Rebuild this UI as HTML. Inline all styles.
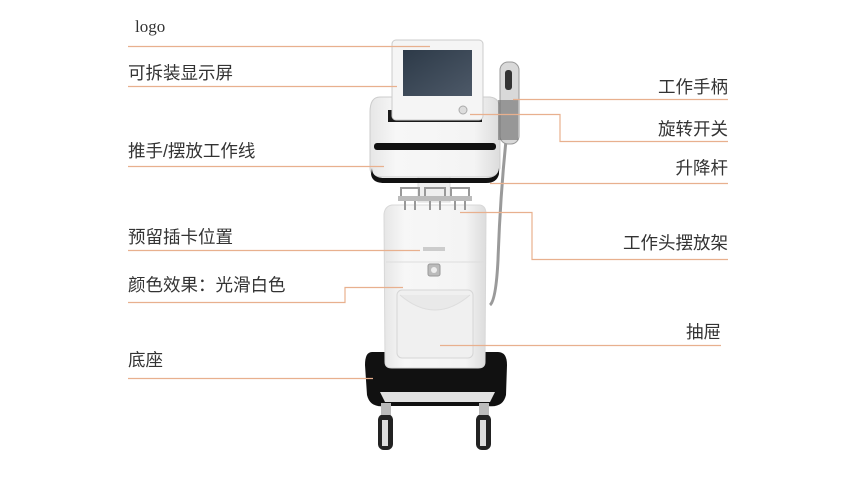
<!DOCTYPE html>
<html><head><meta charset="utf-8"><style>
html,body{margin:0;padding:0;background:#fff}
body{width:862px;height:484px;position:relative;overflow:hidden;font-family:"Liberation Sans","Noto Sans CJK SC",sans-serif;color:#333}
.t{position:absolute;font-size:17.5px;line-height:19px;white-space:nowrap}
.r{text-align:right}
</style></head><body>
<svg width="862" height="484" style="position:absolute;left:0;top:0">
<defs>
<linearGradient id="w" x1="0" x2="1"><stop offset="0" stop-color="#e6e6e6"/><stop offset=".2" stop-color="#f7f7f7"/><stop offset=".8" stop-color="#f4f4f4"/><stop offset="1" stop-color="#dcdcdc"/></linearGradient>
<linearGradient id="s" x1="0" y1="0" x2="1" y2="1"><stop offset="0" stop-color="#2d3a48"/><stop offset="1" stop-color="#4d5968"/></linearGradient>
</defs>
<path d="M372 352 Q365 352 365 365 L367 395 Q370 408 385 406 L488 406 Q503 408 506 395 L507 365 Q507 352 498 352 Z" fill="#111"/>
<path d="M380 392 L495 392 L490 402 L385 402 Z" fill="#fafafa" opacity=".9"/>
<rect x="378" y="414" width="15" height="36" rx="6" fill="#222"/><rect x="382" y="420" width="6" height="26" fill="#ddd"/>
<rect x="476" y="414" width="15" height="36" rx="6" fill="#222"/><rect x="480" y="420" width="6" height="26" fill="#ddd"/>
<rect x="381" y="403" width="10" height="12" fill="#bbb"/><rect x="479" y="403" width="10" height="12" fill="#bbb"/>
<path d="M392 205 L480 205 Q486 206 486 214 L485 362 Q485 368 478 368 L392 368 Q385 368 385 362 L384 214 Q385 206 392 205 Z" fill="url(#w)" stroke="#d8d8d8"/>
<line x1="386" y1="262" x2="484" y2="262" stroke="#ddd"/>
<rect x="397" y="290" width="76" height="68" rx="5" fill="#f0f0f0" stroke="#d6d6d6"/>
<path d="M400 295 Q435 325 470 295" fill="#e9e9e9" stroke="#ddd"/>
<rect x="428" y="264" width="12" height="12" rx="2" fill="#bbb" stroke="#999"/><circle cx="434" cy="270" r="3" fill="#eee"/>
<rect x="423" y="247" width="22" height="4" fill="#ccc"/>
<rect x="418" y="172" width="32" height="30" fill="#eee" stroke="#ddd"/>
<g fill="none" stroke="#999" stroke-width="2">
<path d="M401 196 v-8 h18 v8 M405 196 v14 M415 196 v14"/>
<path d="M425 196 v-8 h20 v8 M430 196 v14 M440 196 v14"/>
<path d="M451 196 v-8 h18 v8 M455 196 v14 M465 196 v14"/>
</g>
<rect x="398" y="196" width="74" height="5" fill="#bbb"/>
<path d="M380 97 L490 97 Q500 98 500 110 L500 168 Q498 177 488 177 L382 177 Q370 177 370 168 L370 112 Q370 97 380 97 Z" fill="url(#w)" stroke="#ccc"/>
<path d="M372 168 Q372 178 384 178 L486 178 Q498 178 499 168 L499 174 Q497 183 486 183 L384 183 Q372 183 371 174 Z" fill="#111"/>
<rect x="374" y="143" width="122" height="7" rx="3" fill="#111"/>
<path d="M388 110 L482 110 L482 122 L388 122 Z" fill="#1a1a1a"/>
<rect x="392" y="40" width="91" height="80" rx="4" fill="#f5f5f5" stroke="#ccc"/>
<rect x="403" y="50" width="69" height="46" fill="url(#s)"/>
<circle cx="463" cy="110" r="4" fill="#ddd" stroke="#aaa"/>
<path d="M506 140 Q500 200 498 260 Q496 300 490 305" fill="none" stroke="#9a9a9a" stroke-width="3"/>
<rect x="500" y="62" width="19" height="82" rx="8" fill="#d9d9d9" stroke="#999"/>
<rect x="505" y="70" width="7" height="20" rx="3" fill="#333"/>
<rect x="498" y="100" width="20" height="40" fill="#6a6a6a" opacity=".6"/>
<g stroke="#e8b08e" stroke-width="1.2" fill="none">
<path d="M128 46.5 H430"/>
<path d="M128 86.5 H397"/>
<path d="M128 166.5 H384"/>
<path d="M128 250.5 H420"/>
<path d="M128 302.5 H345 V287.5 H403"/>
<path d="M128 378.5 H373"/>
<path d="M513 99.5 H728"/>
<path d="M470 114.5 H560 V141.5 H728"/>
<path d="M490 183.5 H728"/>
<path d="M460 212.5 H532 V259.5 H728"/>
<path d="M440 345.5 H721"/>
</g>
</svg>
<div class="t" style="left:135px;top:17px;font-family:'Liberation Serif',serif;font-size:17px">logo</div>
<div class="t" style="left:128px;top:64px">可拆装显示屏</div>
<div class="t" style="left:128px;top:142px">推手/摆放工作线</div>
<div class="t" style="left:128px;top:228px">预留插卡位置</div>
<div class="t" style="left:128px;top:276px">颜色效果：光滑白色</div>
<div class="t" style="left:128px;top:351px">底座</div>
<div class="t r" style="right:134px;top:78px">工作手柄</div>
<div class="t r" style="right:134px;top:120px">旋转开关</div>
<div class="t r" style="right:134px;top:159px">升降杆</div>
<div class="t r" style="right:134px;top:234px">工作头摆放架</div>
<div class="t r" style="right:141px;top:323px">抽屉</div>
</body></html>
